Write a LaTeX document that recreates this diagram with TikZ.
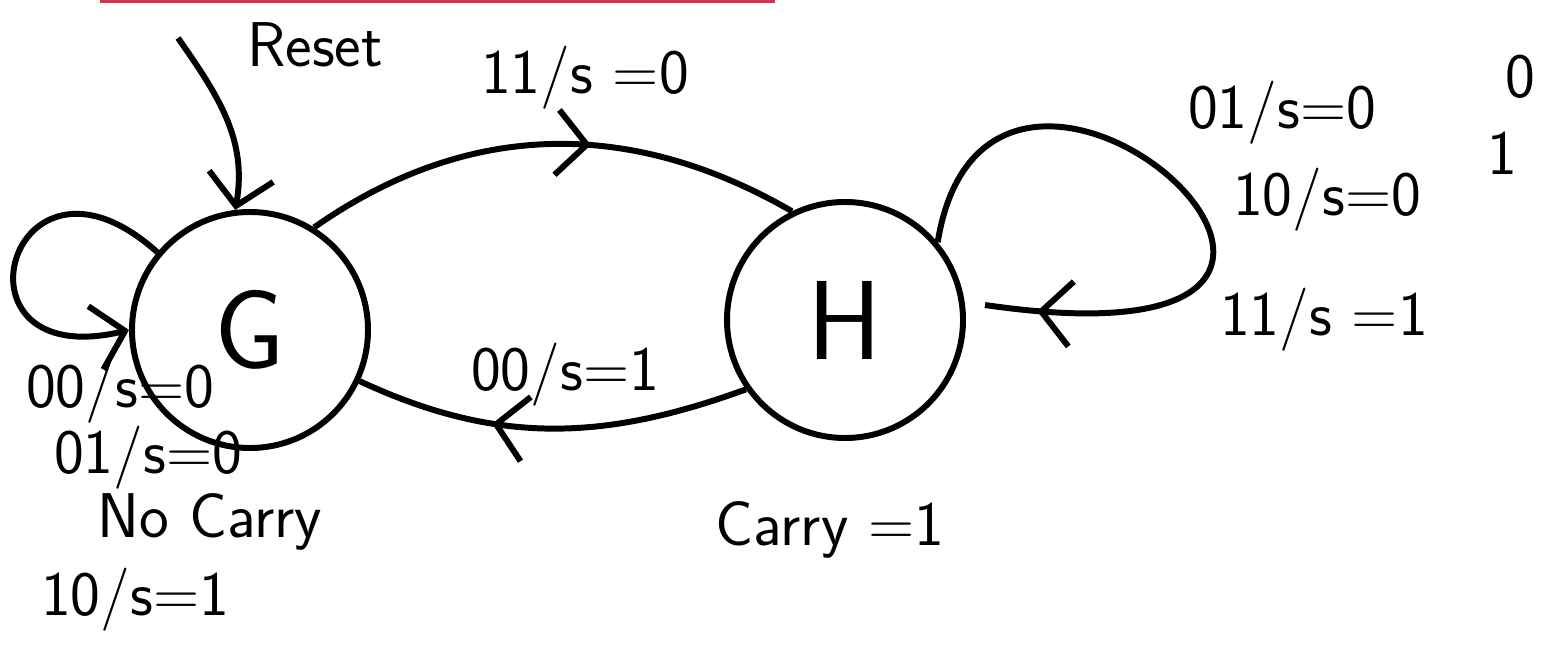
\documentclass[tikz,border=0pt]{standalone}
\usetikzlibrary{arrows.meta,decorations.markings}
\definecolor{topred}{RGB}{214,52,78}

\begin{document}
\begin{tikzpicture}[
    line width=1.7pt,
    font=\sffamily\fontsize{18}{20}\selectfont,
    state/.style={draw, circle, minimum size=2.36cm, inner sep=0pt,
      font=\sffamily\fontsize{32}{34}\selectfont},
    lbl/.style={inner sep=1pt},
    arr/.style={-{Straight Barb[length=3mm, width=6.5mm]}},
    midarr/.style={postaction={decorate}, decoration={markings,
      mark=at position #1 with {\arrow{Straight Barb[length=3mm, width=6.5mm]}}}}
  ]
    \useasboundingbox (0,0) rectangle (15.42,-6.5);
    \draw[topred, line width=0.9pt] (1.0,-0.015) -- (7.75,-0.015);

    \node[state] (G) at (2.50,-3.30) {G};
    \node[state] (H) at (8.45,-3.20) {H};

    \coordinate (rst) at (1.78,-0.38);
    \coordinate (hend) at (9.85,-3.05);

    \node[lbl] (reset) at (3.15,-0.45) {Reset};
    \node[lbl] (top) at (5.85,-0.78) {11/s =0};
    \node[lbl] (bot) at (5.65,-3.75) {00/s=1};
    \node[lbl] (g1) at (1.20,-3.92) {00/s=0};
    \node[lbl] (g2) at (1.48,-4.58) {01/s=0};
    \node[lbl] (nc) at (2.10,-5.22) {No Carry};
    \node[lbl] (g3) at (1.35,-6.00) {10/s=1};
    \node[lbl] (h1) at (12.82,-1.13) {01/s=0};
    \node[lbl] (h2) at (13.27,-2.00) {10/s=0};
    \node[lbl] (h3) at (13.24,-3.20) {11/s =1};
    \node[lbl] (cy) at (8.30,-5.30) {Carry =1};
    \node[lbl] (b0) at (15.20,-0.77) {0};
    \node[lbl] (b1) at (15.02,-1.53) {1};

    \draw[arr] (rst) to[out=-55, in=80] (G.97);
    \draw[midarr=0.58] (G.58) to[out=35, in=150] (H.116);
    \draw[midarr=0.65] (H.215) to[out=200, in=-25] (G.335);
    \draw[arr] (G.140) .. controls (0.1,-1.2) and (-0.6,-3.75) .. (G.180);
    \draw[midarr=0.92] (H.40) .. controls (9.9,0.8) and (15.0,-3.8) .. (hend);
  \end{tikzpicture}
\end{document}
